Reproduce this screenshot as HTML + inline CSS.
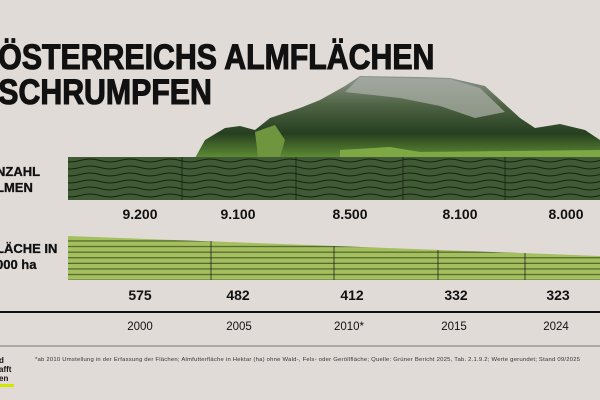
<!DOCTYPE html>
<html><head><meta charset="utf-8"><style>
html,body{margin:0;padding:0;background:#e1dbd8;}
body{width:600px;height:400px;overflow:hidden;position:relative;font-family:"Liberation Sans",sans-serif;}
</style></head><body>
<svg width="600" height="400" viewBox="0 0 600 400" xmlns="http://www.w3.org/2000/svg" style="position:absolute;left:0;top:0">
<defs>
<pattern id="wave" x="0" y="157" width="40" height="7" patternUnits="userSpaceOnUse">
<rect width="40" height="7" fill="#3f5a35"/>
<path d="M0 3.5 Q10 0.5 20 3.5 T40 3.5" fill="none" stroke="#18220f" stroke-width="1"/>
</pattern>
<pattern id="stripe" x="0" y="236" width="10" height="5.6" patternUnits="userSpaceOnUse">
<rect width="10" height="5.6" fill="#a4bf5e"/>
<rect y="4.4" width="10" height="1.1" fill="#4a5a2a"/>
</pattern>
<linearGradient id="mt" x1="0" y1="0" x2="0" y2="1">
<stop offset="0" stop-color="#8e968c"/><stop offset="0.35" stop-color="#4f6444"/><stop offset="0.7" stop-color="#263f20"/><stop offset="1" stop-color="#5f8e34"/>
</linearGradient>
</defs>
<path d="M195 158 L205 140 L225 128 L240 126 L255 130 L270 118 L300 108 L320 100 L345 86 L360 76 L420 77 L450 78 L485 86 L520 118 L535 128 L560 124 L585 130 L600 140 L600 158 Z" fill="url(#mt)"/>
<path d="M345 92 L360 77 L450 79 L480 88 L505 112 L475 118 L440 106 L400 98 Z" fill="#a9aea6" opacity="0.75"/>
<path d="M255 132 L275 125 L285 140 L280 157 L258 157 Z" fill="#6f963e"/>
<path d="M340 150 L390 147 L420 152 L600 150 L600 158 L340 158 Z" fill="#7ea844"/>
<rect x="68" y="157" width="532" height="43" fill="url(#wave)"/>
<g stroke="#18220f" stroke-width="0.8">
<line x1="182" y1="157" x2="182" y2="200"/><line x1="296" y1="157" x2="296" y2="200"/>
<line x1="403" y1="157" x2="403" y2="200"/><line x1="505" y1="157" x2="505" y2="200"/>
</g>
<path d="M68 236 L600 256 L600 280 L68 280 Z" fill="url(#stripe)"/>
<g stroke="#222" stroke-width="0.8">
<line x1="211" y1="241" x2="211" y2="280"/><line x1="334" y1="246" x2="334" y2="280"/>
<line x1="438" y1="250" x2="438" y2="280"/><line x1="525" y1="253" x2="525" y2="280"/>
</g>
<line x1="0" y1="312" x2="600" y2="312" stroke="#111" stroke-width="2"/>
<line x1="0" y1="346" x2="600" y2="346" stroke="#8e8a87" stroke-width="1.2"/>
<g font-family="Liberation Sans, sans-serif" font-weight="bold" fill="#111" text-anchor="middle" font-size="14">
<text x="140" y="219">9.200</text><text x="238" y="219">9.100</text><text x="350" y="219">8.500</text><text x="460" y="219">8.100</text><text x="566" y="219">8.000</text>
<text x="140" y="300">575</text><text x="238" y="300">482</text><text x="352" y="300">412</text><text x="456" y="300">332</text><text x="558" y="300">323</text>
</g>
<g font-family="Liberation Sans, sans-serif" fill="#111" text-anchor="middle" font-size="11.5">
<text x="140" y="330">2000</text><text x="239" y="330">2005</text><text x="349" y="330">2010*</text><text x="454" y="330">2015</text><text x="556" y="330">2024</text>
</g>
<g font-family="Liberation Sans, sans-serif" font-weight="bold" fill="#111" font-size="13" stroke="#111" stroke-width="0.3">
<text x="-4" y="176">NZAHL</text><text x="-4" y="192">LMEN</text>
<text x="-4" y="253">LÄCHE IN</text><text x="-4" y="269">000 ha</text>
</g>
<g font-family="Liberation Sans, sans-serif" font-weight="bold" fill="#111" font-size="35" stroke="#111" stroke-width="1.1">
<text x="-2" y="69" transform="scale(0.865,1)">ÖSTERREICHS ALMFLÄCHEN</text>
<text x="-2" y="104" transform="scale(0.865,1)">SCHRUMPFEN</text>
</g>
<text x="35" y="361" font-family="Liberation Sans, sans-serif" font-size="5.9" fill="#333" textLength="545">*ab 2010 Umstellung in der Erfassung der Flächen; Almfutterfläche in Hektar (ha) ohne Wald-, Fels- oder Geröllfläche; Quelle: Grüner Bericht 2025, Tab. 2.1.9.2; Werte gerundet; Stand 09/2025</text>
<g font-family="Liberation Sans, sans-serif" font-weight="bold" fill="#111" font-size="8">
<text x="-1" y="363">d</text><text x="-1" y="372">afft</text><text x="-1" y="381">en</text>
</g>
<rect x="0" y="384" width="14" height="3" fill="#d4e600"/>
</svg>
</body></html>
